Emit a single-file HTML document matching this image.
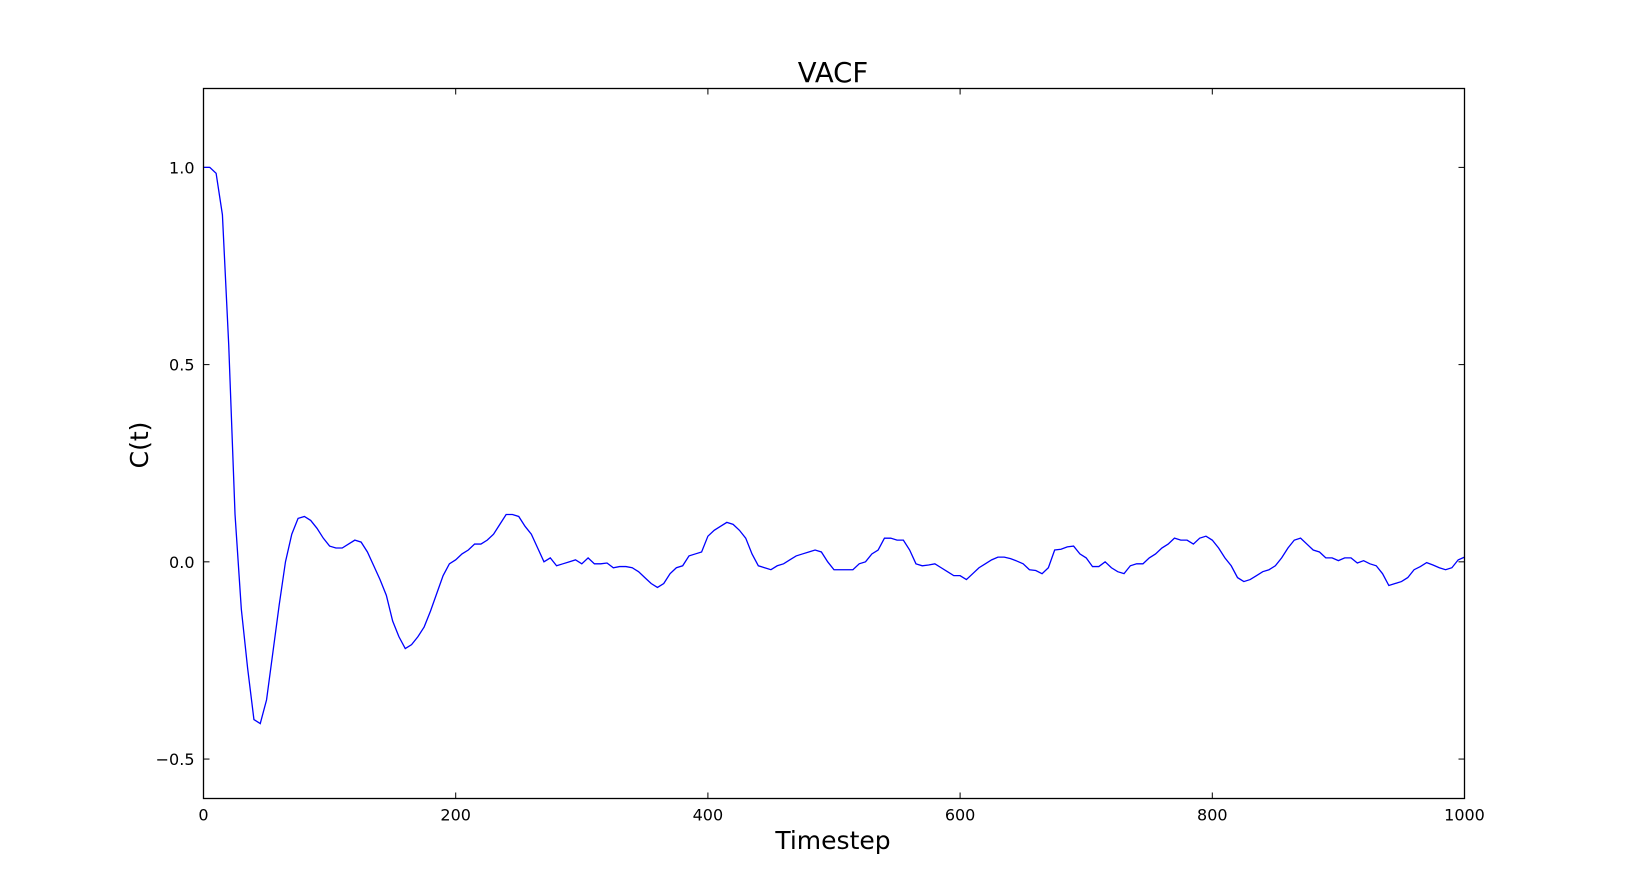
<!DOCTYPE html>
<html><head><meta charset="utf-8"><style>
html,body{margin:0;padding:0;background:#fff;}
svg{display:block;font-family:"DejaVu Sans","Liberation Sans",sans-serif;}
</style></head><body>
<svg id="chart" width="1626" height="887" viewBox="0 0 1626 887" xmlns="http://www.w3.org/2000/svg">
<rect width="1626" height="887" fill="#fff"/>
<text x="833" y="82" font-size="27.5" text-anchor="middle">VACF</text>
<text x="833" y="849" font-size="25" text-anchor="middle">Timestep</text>
<text x="0" y="0" font-size="25" text-anchor="middle" transform="translate(148,445) rotate(-90)">C(t)</text>
<g id="ticks"></g>
<path id="line" fill="none" stroke="#0000ff" stroke-width="1.3"/>
<rect x="203.5" y="88.5" width="1261" height="710" fill="none" stroke="#000" stroke-width="1.3"/>
</svg>
<script>
const timesteps = [0,5,10,15,20,25,30,35,40,45,50,55,60,65,70,75,80,85,90,95,100,105,110,115,120,125,130,135,140,145,150,155,160,165,170,175,180,185,190,195,200,205,210,215,220,225,230,235,240,245,250,255,260,265,270,275,280,285,290,295,300,305,310,315,320,325,330,335,340,345,350,355,360,365,370,375,380,385,390,395,400,405,410,415,420,425,430,435,440,445,450,455,460,465,470,475,480,485,490,495,500,505,510,515,520,525,530,535,540,545,550,555,560,565,570,575,580,585,590,595,600,605,610,615,620,625,630,635,640,645,650,655,660,665,670,675,680,685,690,695,700,705,710,715,720,725,730,735,740,745,750,755,760,765,770,775,780,785,790,795,800,805,810,815,820,825,830,835,840,845,850,855,860,865,870,875,880,885,890,895,900,905,910,915,920,925,930,935,940,945,950,955,960,965,970,975,980,985,990,995,1000];
const vacf = [1.0,1.0,0.985,0.88,0.55,0.12,-0.12,-0.27,-0.40,-0.41,-0.35,-0.23,-0.11,0.0,0.07,0.11,0.115,0.105,0.085,0.06,0.04,0.035,0.035,0.045,0.055,0.05,0.025,-0.01,-0.045,-0.085,-0.15,-0.19,-0.22,-0.21,-0.19,-0.165,-0.125,-0.08,-0.035,-0.005,0.005,0.02,0.03,0.045,0.045,0.055,0.07,0.095,0.12,0.12,0.115,0.09,0.07,0.035,0.0,0.01,-0.01,-0.005,0.0,0.005,-0.005,0.01,-0.005,-0.005,-0.003,-0.015,-0.012,-0.012,-0.015,-0.025,-0.04,-0.055,-0.065,-0.055,-0.03,-0.015,-0.01,0.015,0.02,0.025,0.065,0.08,0.09,0.1,0.095,0.08,0.06,0.02,-0.01,-0.015,-0.02,-0.01,-0.005,0.005,0.015,0.02,0.025,0.03,0.025,0.0,-0.02,-0.02,-0.02,-0.02,-0.005,0.0,0.02,0.03,0.06,0.06,0.055,0.055,0.03,-0.005,-0.01,-0.008,-0.005,-0.015,-0.025,-0.035,-0.035,-0.045,-0.03,-0.015,-0.005,0.005,0.012,0.012,0.008,0.002,-0.005,-0.02,-0.022,-0.03,-0.015,0.03,0.032,0.038,0.04,0.02,0.01,-0.012,-0.012,0.0,-0.015,-0.025,-0.03,-0.01,-0.005,-0.005,0.01,0.02,0.035,0.045,0.06,0.055,0.055,0.045,0.06,0.065,0.055,0.035,0.01,-0.01,-0.04,-0.05,-0.045,-0.035,-0.025,-0.02,-0.01,0.01,0.035,0.055,0.06,0.045,0.03,0.025,0.01,0.01,0.003,0.01,0.01,-0.003,0.003,-0.005,-0.01,-0.03,-0.06,-0.055,-0.05,-0.04,-0.02,-0.012,-0.002,-0.008,-0.015,-0.02,-0.015,0.005,0.012];
const xTicks = [0,200,400,600,800,1000];
const xTickLabels = ["0","200","400","600","800","1000"];
const yTicks = [-0.5,0.0,0.5,1.0];
const yTickLabels = ["\u22120.5","0.0","0.5","1.0"];

const L=203.5,R=1464.5,T=88.5,B=798.5;
const xs=v=>L+(v-0)/(1000-0)*(R-L);
const ys=v=>B-(v-(-0.6))/(1.2-(-0.6))*(B-T);
const NS="http://www.w3.org/2000/svg";
const g=document.getElementById('ticks');
function mk(tag,attrs){const e=document.createElementNS(NS,tag);for(const k in attrs)e.setAttribute(k,attrs[k]);return e;}
xTicks.forEach((v,i)=>{
  const x=xs(v);
  const t1=mk('line',{x1:x,x2:x,y1:B,y2:B-6,stroke:'#000','stroke-width':1});
  
  
  g.appendChild(t1);
  const t2=mk('line',{x1:x,x2:x,y1:T,y2:T+6,stroke:'#000','stroke-width':1});
  
  
  g.appendChild(t2);
  const tx=mk('text',{x:x,y:B+22,'font-size':16,'text-anchor':'middle'});
  tx.textContent=xTickLabels[i];
  
  
  g.appendChild(tx);
});
yTicks.forEach((v,i)=>{
  const y=ys(v);
  const t1=mk('line',{x1:L,x2:L+6,y1:y,y2:y,stroke:'#000','stroke-width':1});
  
  
  g.appendChild(t1);
  const t2=mk('line',{x1:R,x2:R-6,y1:y,y2:y,stroke:'#000','stroke-width':1});
  
  
  g.appendChild(t2);
  const tx=mk('text',{x:L-9,y:y+6,'font-size':16,'text-anchor':'end'});
  tx.textContent=yTickLabels[i];
  
  
  g.appendChild(tx);
});
document.getElementById('line').setAttribute('d',timesteps.map((t,i)=>(i?'L':'M')+xs(t).toFixed(2)+','+ys(vacf[i]).toFixed(2)).join(''));
</script>
</body></html>
